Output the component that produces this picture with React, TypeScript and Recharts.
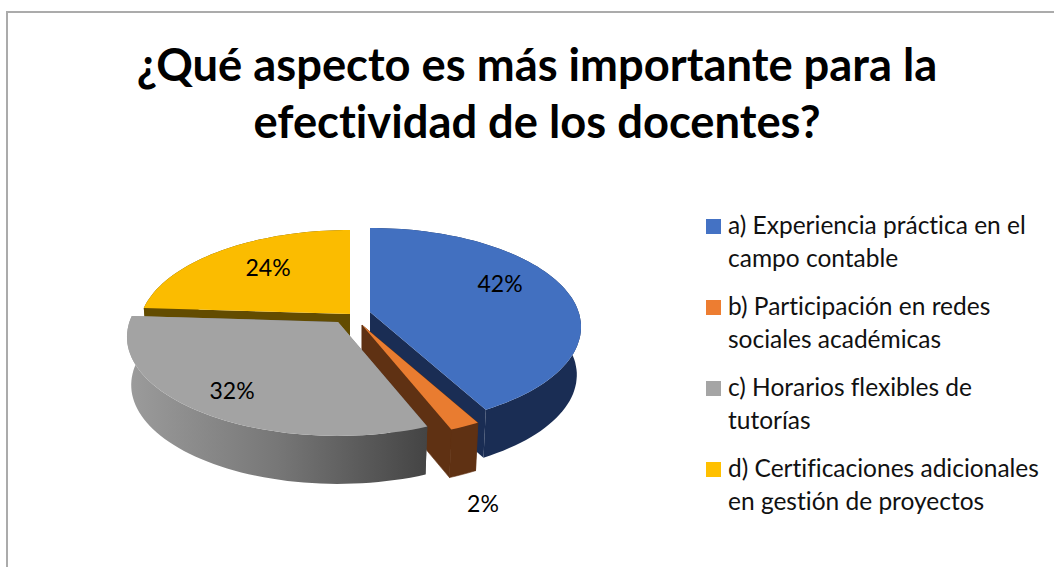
import { PieChart, Pie, Legend } from 'recharts';

const FONT = 'Lato, sans-serif';

const CATEGORY_KEYS = ['a', 'b', 'c', 'd'];
const LEGEND_LINES = [
  ['a) Experiencia práctica en el', 'campo contable'],
  ['b) Participación en redes', 'sociales académicas'],
  ['c) Horarios flexibles de', 'tutorías'],
  ['d) Certificaciones adicionales', 'en gestión de proyectos'],
];
const PERCENTS = [42, 2, 32, 24];
const TITLE_LINES = ['¿Qué aspecto es más importante para la', 'efectividad de los docentes?'];

const TOP_COLORS = ['#4270C0', '#E97C30', '#A3A3A3', '#FBBC00'];
const SIDE_COLORS = ['#1A2D54', '#5F3113', 'url(#greySide)', '#634C00'];
const SWATCH_COLORS = ['#4472C4', '#ED7D31', '#A5A5A5', '#FFC000'];

// yellow goes first so the grey slice paints over its wall, the order round the pie stays the same
const DRAW_ORDER = [3, 0, 1, 2];
const pieData = DRAW_ORDER.map(i => ({ name: CATEGORY_KEYS[i], value: PERCENTS[i], slice: i }));

/* pie geometry */
const CX = 358;
const CY = 316;
const RX = 208.6;
const RY = 96.7;
const TILT = 0.151;
const DEPTH = 48;
const BOTTOM_SCALE = 0.98;
const EXPLODE = [[12, -4], [4, 9], [-20, 6], [-8, -2]];
const LABEL_OFFSET = [[142, -33], [125, 187], [-126, 74], [-90, -49]];

// disk point to screen, with a bit of perspective so the near edge looks bigger
function project(theta: number, r: number, ox: number, oy: number, sx = 1) {
  const rad = (theta * Math.PI) / 180;
  const u = r * Math.sin(rad);
  const v = -r * Math.cos(rad);
  const w = 1 - TILT * v;
  return [ox + (RX * sx * u) / w, oy + (RY * v) / w];
}

const toPath = (pts: number[][]) => 'M' + pts.map(p => `${p[0].toFixed(1)},${p[1].toFixed(1)}`).join('L') + 'Z';

function Slice3D(props: any) {
  const slice = props.payload?.slice ?? props.slice;
  const t0 = 90 - props.startAngle;
  const t1 = 90 - props.endAngle;
  const ox = props.cx + EXPLODE[slice][0];
  const oy = props.cy + EXPLODE[slice][1];
  const n = Math.max(2, Math.ceil(Math.abs(t1 - t0) / 2));
  const thetas = Array.from({ length: n + 1 }, (_, i) => t0 + ((t1 - t0) * i) / n);

  const top = (t: number) => project(t, 1, ox, oy);
  const bottom = (t: number) => project(t, 1, ox, oy + DEPTH, BOTTOM_SCALE);
  const apex = [ox, oy];
  const apexLow = [ox, oy + DEPTH];
  const side = SIDE_COLORS[slice];
  // only the orange wedge shows a seam where its faces meet
  const seam = slice === 1 ? side : 'none';

  return (
    <g>
      <path d={toPath([apex, top(t0), bottom(t0), apexLow])} fill={side} stroke={seam} strokeWidth={0.6} />
      <path d={toPath([apex, top(t1), bottom(t1), apexLow])} fill={side} stroke={seam} strokeWidth={0.6} />
      <path d={toPath([...thetas.map(top), ...thetas.slice().reverse().map(bottom)])} fill={side} stroke={seam} strokeWidth={0.6} />
      <path d={toPath([apex, ...thetas.map(top)])} fill={TOP_COLORS[slice]} />
    </g>
  );
}

function SliceLabel(props: any) {
  const slice = props.payload?.slice ?? props.slice;
  return (
    <text
      x={props.cx + LABEL_OFFSET[slice][0]}
      y={props.cy + LABEL_OFFSET[slice][1]}
      textAnchor="middle"
      dominantBaseline="central"
      fontFamily={FONT}
      fontSize={23}
      fill="#000"
    >
      {props.value}%
    </text>
  );
}

function LegendBlock() {
  return (
    <div style={{ fontFamily: FONT, fontSize: 24.5, lineHeight: '33px', color: '#111', fontVariantLigatures: 'none' }}>
      {LEGEND_LINES.map((lines, i) => (
        <div key={i} style={{ position: 'relative', paddingLeft: 22, marginBottom: 15, whiteSpace: 'nowrap' }}>
          <span style={{ position: 'absolute', left: 0, top: 11, width: 15, height: 15, background: SWATCH_COLORS[i] }} />
          {lines.map(l => <div key={l}>{l}</div>)}
        </div>
      ))}
    </div>
  );
}

export default function App() {
  return (
    <div style={{ position: 'absolute', left: 0, top: 0, width: 1054, height: 567, overflow: 'hidden', background: '#fff' }}>
      <div style={{ position: 'absolute', left: 6, top: 11, width: 1100, height: 600, border: '2px solid #ababab' }} />
      <div style={{ position: 'absolute', left: 0, top: 0 }}>
        <PieChart width={1054} height={567} margin={{ top: 0, right: 0, bottom: 0, left: 0 }}>
          <defs>
            <linearGradient id="greySide" x1="0" y1="0" x2="1" y2="0">
              <stop offset="0" stopColor="#9c9c9c" />
              <stop offset="0.5" stopColor="#777777" />
              <stop offset="1" stopColor="#444444" />
            </linearGradient>
          </defs>
          <text textAnchor="middle" fontFamily={FONT} fontWeight={700} fontSize={45.3} fill="#000" style={{ fontVariantLigatures: 'none' }}>
            <tspan x={537} y={81}>{TITLE_LINES[0]}</tspan>
            <tspan x={537} y={138}>{TITLE_LINES[1]}</tspan>
          </text>
          <Pie
            data={pieData}
            dataKey="value"
            nameKey="name"
            cx={CX}
            cy={CY}
            outerRadius={RX}
            startAngle={-183.6}
            endAngle={-543.6}
            shape={Slice3D}
            label={SliceLabel}
            labelLine={false}
            stroke="none"
            isAnimationActive={false}
          />
          <Legend
            layout="vertical"
            align="right"
            verticalAlign="middle"
            content={<LegendBlock />}
            wrapperStyle={{ left: 706, top: 208, right: 'auto', width: 345 }}
          />
        </PieChart>
      </div>
    </div>
  );
}
